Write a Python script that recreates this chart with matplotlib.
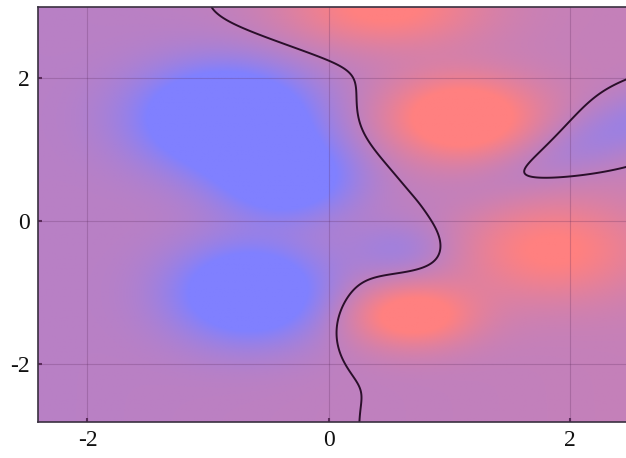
import numpy as np
import matplotlib
matplotlib.use("Agg")
import matplotlib.pyplot as plt
from matplotlib.colors import LinearSegmentedColormap

# Field described as a sum of (rotated) Gaussian bumps
bump_x     = [-0.85, -0.35, -0.65, 0.60, 0.45, 1.10, 1.85, 0.68, 2.58]
bump_y     = [ 1.45,  0.60, -1.00, -0.40, 3.00, 1.45, -0.40, -1.32, 1.42]
bump_amp   = [-2.2, -1.5, -1.8, -0.50, 1.1, 1.5, 1.0, 1.3, -0.65]
bump_sx    = [0.50, 0.40, 0.45, 0.30, 0.60, 0.45, 0.55, 0.38, 0.95]
bump_sy    = [0.50, 0.40, 0.48, 0.28, 0.40, 0.42, 0.50, 0.32, 0.27]
bump_theta = [0, 0, 0, 0, 0, 0, 0, 0, 36]
trend_slope = 0.04
trend_offset = -0.010

x_ticks = [-2, 0, 2]
y_ticks = [-2, 0, 2]
x_range = (-2.41, 2.47)
y_range = (-2.81, 3.0)

plt.rcParams['axes.unicode_minus'] = False
plt.rcParams['font.family'] = ['Liberation Serif', 'DejaVu Serif']

xs = np.linspace(x_range[0], x_range[1], 600)
ys = np.linspace(y_range[0], y_range[1], 600)
X, Y = np.meshgrid(xs, ys)
Z = trend_slope * X + trend_offset
for cx, cy, a, sx, sy, th in zip(bump_x, bump_y, bump_amp, bump_sx, bump_sy, bump_theta):
    t = np.deg2rad(th)
    dx, dy = X - cx, Y - cy
    u = dx * np.cos(t) + dy * np.sin(t)
    v = -dx * np.sin(t) + dy * np.cos(t)
    Z = Z + a * np.exp(-(u ** 2 / (2 * sx ** 2) + v ** 2 / (2 * sy ** 2)))

cmap = LinearSegmentedColormap.from_list("br", ["#8080ff", "#bf80bf", "#ff8080"])

fig = plt.figure(figsize=(6.26, 4.58), dpi=100)
ax = fig.add_axes([38 / 626, 1 - 422 / 458, 1 - 38 / 626 + 0.001, (422 - 7) / 458])
ax.imshow(Z, extent=[x_range[0], x_range[1], y_range[0], y_range[1]], origin="lower",
          cmap=cmap, vmin=-1, vmax=1, aspect="auto", interpolation="bilinear")
ax.contour(X, Y, Z, levels=[0], colors="#2a0f2a", linewidths=1.4)

ax.set_xlim(*x_range)
ax.set_ylim(*y_range)
ax.set_xticks(x_ticks)
ax.set_yticks(y_ticks)
ax.set_xticklabels([str(t) for t in x_ticks])
ax.set_yticklabels([str(t) for t in y_ticks])
ax.grid(True, color="#5a2a5a", alpha=0.25, linewidth=0.8)
ax.tick_params(direction="in", length=3, width=1.5, color="#5a2a5a",
               labelsize=17, pad=6, labelcolor="#111111")
for s in ax.spines.values():
    s.set_color("#3a3040")
    s.set_linewidth(1.2)

fig.savefig("out.png", dpi=100)
